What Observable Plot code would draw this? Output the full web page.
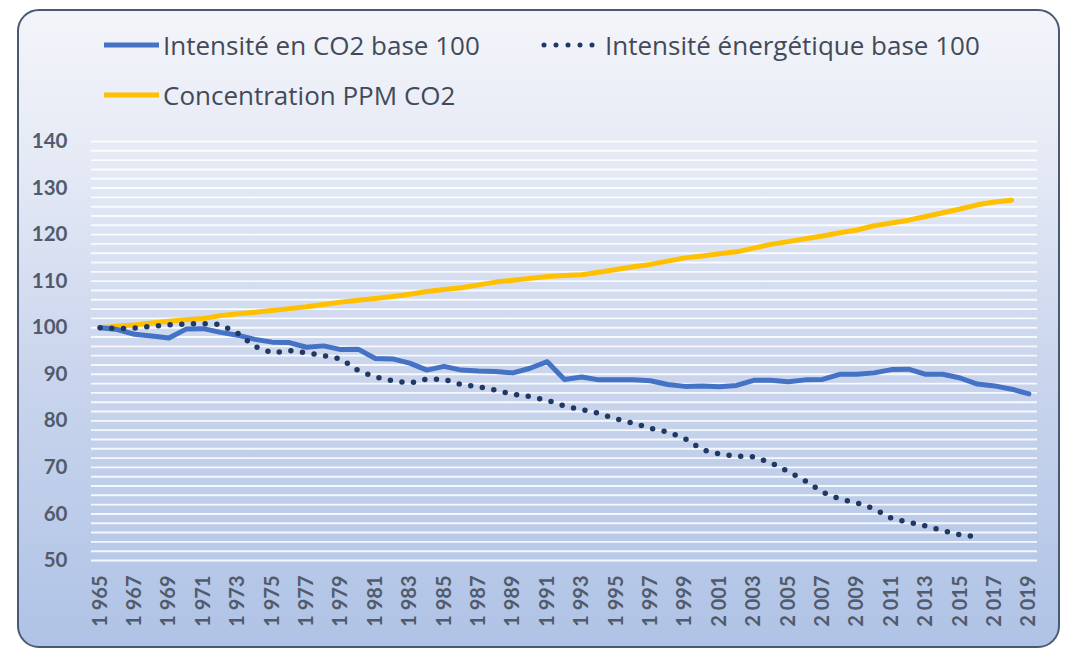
<!DOCTYPE html>
<html>
<head>
<meta charset="utf-8">
<script src="https://cdn.jsdelivr.net/npm/d3@7"></script>
<script src="https://cdn.jsdelivr.net/npm/@observablehq/plot@0.6"></script>
<style>
  html, body { margin: 0; padding: 0; background: #ffffff; width: 1080px; height: 659px; overflow: hidden; font-family: Lato, "Open Sans", sans-serif; }
  #frame {
    position: absolute; left: 17px; top: 9px; width: 1039px; height: 635px;
    border: 2px solid #4a5a72; border-radius: 22px;
    background: linear-gradient(to bottom, #f4f5fa 0%, #e4e9f5 25%, #cbd6ed 55%, #afc3e6 100%);
  }
  #chart { position: absolute; left: 0; top: 0; }
  .leg { position: absolute; font-family: "Open Sans", sans-serif; font-size: 26px; line-height: 36px; color: #434a57; white-space: nowrap; display: flex; align-items: center; }
  .leg svg { margin-right: 3px; }
</style>
</head>
<body>
<div id="frame"></div>
<div id="chart"></div>
<div class="leg" style="left:103px; top:27px;"><svg width="57" height="10"><line x1="1" y1="5" x2="56" y2="5" stroke="#4472c4" stroke-width="5"/></svg><span>Intensité en CO2 base 100</span></div>
<div class="leg" style="left:540px; top:27px;"><svg width="62" height="10"><line x1="4" y1="5" x2="60" y2="5" stroke="#203864" stroke-width="5" stroke-linecap="round" stroke-dasharray="0 12"/></svg><span>Intensité énergétique base 100</span></div>
<div class="leg" style="left:103px; top:77px;"><svg width="57" height="10"><line x1="1" y1="5" x2="56" y2="5" stroke="#ffc000" stroke-width="5"/></svg><span>Concentration PPM CO2</span></div>
<script>
const years = d3.range(1965, 2020);

const co2Intensity = [
  100.0, 99.6, 98.6, 98.2, 97.8, 99.7, 99.8, 99.0, 98.4, 97.5,
  96.9, 96.8, 95.8, 96.1, 95.3, 95.4, 93.4, 93.3, 92.4, 90.9,
  91.7, 90.9, 90.7, 90.6, 90.3, 91.3, 92.7, 88.9, 89.4, 88.8,
  88.8, 88.8, 88.6, 87.8, 87.4, 87.5, 87.3, 87.6, 88.7, 88.7,
  88.4, 88.8, 88.9, 90.0, 90.0, 90.3, 91.0, 91.1, 90.0, 90.0,
  89.2, 87.9, 87.5, 86.8, 85.8
];

const energyIntensity = [
  100.0, 99.8, 99.9, 100.3, 100.6, 100.8, 100.9, 100.7, 98.8, 96.0,
  94.6, 95.1, 94.6, 94.0, 93.3, 90.8, 89.4, 88.6, 88.1, 89.0,
  88.9, 87.8, 87.3, 86.6, 85.7, 85.2, 84.4, 83.2, 82.4, 81.6,
  80.4, 79.5, 78.4, 77.6, 76.2, 73.8, 72.9, 72.4, 72.3, 71.0,
  69.1, 67.1, 64.7, 63.2, 62.4, 61.1, 59.1, 58.2, 57.4, 56.4,
  55.5, 55.1
];

const ppmConcentration = [
  100.0, 100.3, 100.6, 101.0, 101.4, 101.7, 102.0, 102.6, 103.0, 103.3,
  103.7, 104.1, 104.5, 105.0, 105.5, 105.9, 106.3, 106.7, 107.2, 107.8,
  108.2, 108.6, 109.2, 109.8, 110.2, 110.6, 111.0, 111.2, 111.4, 111.9,
  112.5, 113.1, 113.6, 114.3, 115.0, 115.4, 115.9, 116.3, 117.1, 117.9,
  118.5, 119.1, 119.7, 120.4, 121.0, 121.9, 122.5, 123.1, 123.9, 124.7,
  125.5, 126.4, 127.0, 127.4
];

const yTicks = [50, 60, 70, 80, 90, 100, 110, 120, 130, 140];
const gridValues = d3.range(50, 141, 2);
const xTicks = d3.range(1965, 2020, 2);

const toRows = (vals) => vals.map((v, i) => ({year: years[i], value: v}));
const co2Rows = toRows(co2Intensity);
const energyRows = toRows(energyIntensity);
const ppmRows = toRows(ppmConcentration);

const fmtYear = (y) => { const s = String(y); return s[0] + " " + s.slice(1); };

const chart = Plot.plot({
  width: 1080,
  height: 659,
  marginLeft: 91,
  marginRight: 43,
  marginTop: 141,
  marginBottom: 99,
  style: { background: "transparent", fontFamily: "Lato, 'Open Sans', sans-serif", color: "#525b6c", overflow: "visible" },
  x: { domain: [1964.5, 2019.5] },
  y: { domain: [50, 140] },
  marks: [
    Plot.ruleY(gridValues, { stroke: "#ffffff", strokeOpacity: 0.85, strokeWidth: 1.9 }),
    Plot.axisY({ ticks: yTicks, tickSize: 0, tickPadding: 24, fontSize: 20.5, fontWeight: "bold", label: null }),
    Plot.axisX({ ticks: xTicks, tickRotate: -90, tickSize: 0, tickPadding: 15, tickFormat: fmtYear, fontSize: 20, fontWeight: "bold", label: null }),
    Plot.line(ppmRows, { x: "year", y: "value", stroke: "#ffc000", strokeWidth: 5, strokeLinejoin: "round", strokeLinecap: "round" }),
    Plot.line(co2Rows, { x: "year", y: "value", stroke: "#4472c4", strokeWidth: 5, strokeLinejoin: "round", strokeLinecap: "round" }),
    Plot.line(energyRows, { x: "year", y: "value", stroke: "#203864", strokeWidth: 5.5, strokeLinecap: "round", strokeDasharray: "0 11.7" })
  ]
});
document.getElementById("chart").appendChild(chart);
</script>
</body>
</html>
